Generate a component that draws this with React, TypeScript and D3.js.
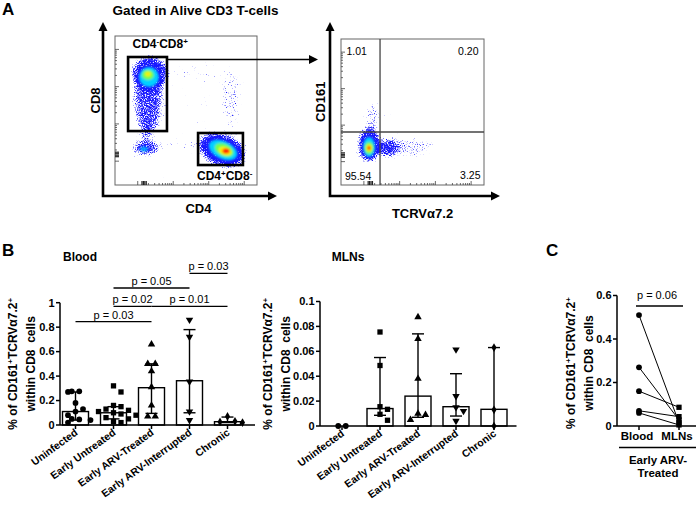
import React from 'react';
import * as d3 from 'd3';

const FONT = "'Liberation Sans', Arial, Helvetica, sans-serif";

// ---------- Panel B data ----------
const categories = ['Uninfected', 'Early Untreated', 'Early ARV-Treated', 'Early ARV-Interrupted', 'Chronic'];
const markerTypes = ['circle', 'square', 'triangle', 'triangleDown', 'diamond'];

const bloodUninfected = [0.275, 0.275, 0.27, 0.18, 0.13, 0.11, 0.08, 0.05, 0.045, 0.04, 0.02];
const bloodEarlyUntreated = [0.32, 0.27, 0.16, 0.15, 0.13, 0.12, 0.11, 0.1, 0.09, 0.08, 0.06, 0.05, 0.03, 0.02];
const bloodEarlyTreated = [0.66, 0.5, 0.5, 0.44, 0.31, 0.16, 0.07, 0.07];
const bloodInterrupted = [0.86, 0.72, 0.354, 0.11, 0.04];
const bloodChronic = [0.07, 0.03, 0.025, 0.02];
const bloodMedian = [0.11, 0.1, 0.305, 0.362, 0.027];
const bloodLow = [0.04, 0.05, 0.095, 0.1, 0.02];
const bloodHigh = [0.27, 0.15, 0.5, 0.78, 0.065];
const bloodTicks = [0, 0.2, 0.4, 0.6, 0.8, 1];

const bloodPFrom = [0, 1, 1, 2, 3];
const bloodPTo = [2, 2, 3, 4, 4];
const bloodPLevel = [0.845, 0.97, 1.12, 0.97, 1.24];
const bloodPLabel = ['p = 0.03', 'p = 0.02', 'p = 0.05', 'p = 0.01', 'p = 0.03'];

const mlnUninfected = [0, 0];
const mlnEarlyUntreated = [0.0755, 0.0486, 0.0155, 0.0134, 0.0094, 0.0046];
const mlnEarlyTreated = [0.0875, 0.07, 0.038, 0.01, 0.009, 0.005];
const mlnInterrupted = [0.0614, 0.024, 0.015, 0.012, 0.004];
const mlnChronic = [0.063, 0.013, 0];
const mlnMedian = [0, 0.014, 0.024, 0.0155, 0.0134];
const mlnLow = [0, 0.0086, 0.007, 0.008, 0];
const mlnHigh = [0, 0.055, 0.074, 0.042, 0.063];
const mlnTicks = [0, 0.02, 0.04, 0.06, 0.08, 0.1];

// ---------- Panel C data ----------
const pairedSites = ['Blood', 'MLNs'];
const pairedBlood = [0.51, 0.27, 0.16, 0.07, 0.06];
const pairedMLN = [0.015, 0.028, 0.086, 0.043, 0.005];
const pairedTicks = [0, 0.2, 0.4, 0.6];

// ---------- Panel A flow populations (unit log-fluorescence coords) ----------
// [u, v, spreadU, spreadV, rotationDeg, density]
const leftSparse = [
  [0.232, 0.59, 0.1, 0.26, 0, 0.72],
  [0.246, 0.75, 0.13, 0.115, 0, 0.85],
  [0.218, 0.248, 0.095, 0.05, 0, 0.8],
  [0.218, 0.336, 0.05, 0.06, 0, 0.4],
  [0.754, 0.235, 0.17, 0.105, 20, 1],
  [0.824, 0.57, 0.063, 0.235, 0, 0.33],
  [0.528, 0.57, 0.282, 0.235, 0, 0.1],
  [0.458, 0.262, 0.176, 0.054, 0, 0.2],
  [0.599, 0.772, 0.211, 0.081, 0, 0.12],
];
// [u, v, spreadU, spreadV, rotationDeg, level]
const leftDense = [
  [0.239, 0.725, 0.07, 0.067, 0, 0.45],
  [0.232, 0.738, 0.042, 0.034, 0, 0.62],
  [0.232, 0.745, 0.021, 0.017, 0, 0.78],
  [0.204, 0.242, 0.028, 0.017, 0, 0.35],
  [0.761, 0.235, 0.106, 0.06, 25, 0.45],
  [0.768, 0.235, 0.07, 0.04, 25, 0.62],
  [0.775, 0.228, 0.046, 0.027, 20, 0.8],
  [0.782, 0.228, 0.025, 0.017, 0, 1],
];
const rightSparse = [
  [0.196, 0.274, 0.077, 0.116, 0, 1],
  [0.217, 0.459, 0.049, 0.123, 0, 0.42],
  [0.469, 0.26, 0.196, 0.062, 0, 0.42],
  [0.329, 0.253, 0.077, 0.068, 0, 0.7],
  [0.413, 0.445, 0.175, 0.103, 0, 0.08],
];
const rightDense = [
  [0.196, 0.26, 0.042, 0.068, 0, 0.45],
  [0.196, 0.253, 0.031, 0.041, 0, 0.62],
  [0.196, 0.253, 0.02, 0.024, 0, 0.8],
  [0.196, 0.253, 0.011, 0.014, 0, 1],
];
const gateCD8 = [0.092, 0.366, 0.362, 0.859];
const gateCD4 = [0.585, 0.901, 0.134, 0.349];
const quadrantCut = [0.273, 0.363];
const quadrantValues = ['1.01', '0.20', '95.54', '3.25'];

const jet = d3
  .scaleLinear<string>()
  .domain([0, 0.25, 0.45, 0.62, 0.8, 1])
  .range(['#1414ff', '#0070ff', '#00d0ff', '#70ff50', '#ffee00', '#ff1400']);

const flowLog = d3.scaleLog().domain([100, 100000]).range([0.16, 0.91]);

function markerPath(t: string) {
  if (t === 'circle') return d3.symbol(d3.symbolCircle, 26)()!;
  if (t === 'square') return d3.symbol(d3.symbolSquare, 28)()!;
  if (t === 'diamond') return d3.symbol(d3.symbolDiamond, 22)()!;
  return d3.symbol(d3.symbolTriangle, 24)()!;
}

function Marker({ t, x, y }: { t: string; x: number; y: number }) {
  const rot = t === 'triangleDown' ? ' rotate(180)' : '';
  return <path d={markerPath(t)} transform={`translate(${x},${y})${rot}`} fill="#000" />;
}

function swarm(values: number[], y: (v: number) => number, cx: number, step: number) {
  const order = values.map((v, i) => ({ v, i })).sort((a, b) => b.v - a.v);
  const res: { x: number; y: number }[] = new Array(values.length);
  const placed: { x: number; y: number }[] = [];
  const offs = [0];
  for (let j = 1; j < 10; j++) offs.push(j * step, -j * step);
  for (const { v, i } of order) {
    const py = y(v);
    for (const o of offs) {
      if (placed.every((p) => Math.hypot(p.x - (cx + o), p.y - py) >= step * 0.95)) {
        res[i] = { x: cx + o, y: py };
        placed.push(res[i]);
        break;
      }
    }
  }
  const rows = d3.group(res.map((p, i) => ({ p, i })), (d) => Math.round(d.p.y));
  rows.forEach((row) => {
    if (row.length > 1) {
      const m = d3.mean(row, (d) => d.p.x)!;
      row.forEach((d) => (d.p.x += cx - m));
    }
  });
  return res;
}

function YLabel({ x1, x2, yMid }: { x1: number; x2: number; yMid: number }) {
  return (
    <g fontSize={12} fontWeight="bold" textAnchor="middle">
      <text transform={`translate(${x1},${yMid}) rotate(-90)`}>
        % of CD161<tspan dy={-4.5} fontSize={8}>+</tspan>
        <tspan dy={4.5}>TCRVα7.2</tspan>
        <tspan dy={-4.5} fontSize={8}>+</tspan>
      </text>
      <text transform={`translate(${x2},${yMid}) rotate(-90)`} xmlSpace="preserve">
        within CD8  cells
      </text>
    </g>
  );
}

type PanelCfg = {
  axisX: number;
  y0: number;
  yTop: number;
  max: number;
  ticks: number[];
  xEnd: number;
  bandStart: number;
  groups: number[][];
  median: number[];
  low: number[];
  high: number[];
  title: string;
  titleX: number;
  labX1: number;
  labX2: number;
  brackets?: { from: number; to: number; level: number; label: string }[];
};

function StatPanel({ c }: { c: PanelCfg }) {
  const y = d3.scaleLinear().domain([0, c.max]).range([c.y0, c.yTop]);
  const x = d3.scaleBand().domain(categories).range([c.bandStart, c.bandStart + 38 * categories.length]);
  const bw = 26;
  const fmt = d3.format('~g');
  const cx = (i: number) => x(categories[i])! + x.bandwidth() / 2;
  return (
    <g>
      <text x={c.titleX} y={261} textAnchor="middle" fontSize={12} fontWeight="bold">
        {c.title}
      </text>
      <YLabel x1={c.axisX + c.labX1} x2={c.axisX + c.labX2} yMid={(c.y0 + c.yTop) / 2} />
      {c.median.map((m, i) => (
        <rect key={'b' + i} x={cx(i) - bw / 2} y={y(m)} width={bw} height={c.y0 - y(m)} fill="#fff" stroke="#000" strokeWidth={1.4} />
      ))}
      {c.median.map((m, i) =>
        c.high[i] > c.low[i] ? (
          <g key={'e' + i} stroke="#000" strokeWidth={1.4}>
            <line x1={cx(i)} x2={cx(i)} y1={y(c.low[i])} y2={y(c.high[i])} />
            <line x1={cx(i) - 6} x2={cx(i) + 6} y1={y(c.high[i])} y2={y(c.high[i])} />
            {c.low[i] > 0 && <line x1={cx(i) - 6} x2={cx(i) + 6} y1={y(c.low[i])} y2={y(c.low[i])} />}
          </g>
        ) : null
      )}
      <line x1={c.axisX} x2={c.axisX} y1={c.y0} y2={c.yTop} stroke="#000" strokeWidth={1.5} />
      <line x1={c.axisX} x2={c.xEnd} y1={c.y0} y2={c.y0} stroke="#000" strokeWidth={1.5} />
      {c.ticks.map((t) => (
        <g key={'t' + t}>
          <line x1={c.axisX - 4} x2={c.axisX} y1={y(t)} y2={y(t)} stroke="#000" strokeWidth={1.5} />
          <text x={c.axisX - 5.5} y={y(t)} dy="0.35em" textAnchor="end" fontSize={11} fontWeight="bold">
            {fmt(t)}
          </text>
        </g>
      ))}
      {categories.map((cat, i) => (
        <g key={'c' + i}>
          <line x1={cx(i)} x2={cx(i)} y1={c.y0} y2={c.y0 + 4} stroke="#000" strokeWidth={1.5} />
          <text
            transform={`translate(${cx(i) + 3},${c.y0 + 9}) rotate(-36)`}
            textAnchor="end"
            fontSize={10.5}
            fontWeight="bold"
          >
            {cat}
          </text>
        </g>
      ))}
      {c.groups.map((vals, i) =>
        swarm(vals, y, cx(i), 7.5).map((p, j) => <Marker key={'p' + i + '_' + j} t={markerTypes[i]} x={p.x} y={p.y} />)
      )}
      {(c.brackets || []).map((b, k) => (
        <g key={'br' + k}>
          <line x1={cx(b.from)} x2={cx(b.to)} y1={y(b.level)} y2={y(b.level)} stroke="#000" strokeWidth={1.4} />
          <text x={(cx(b.from) + cx(b.to)) / 2} y={y(b.level) - 3} textAnchor="middle" fontSize={11}>
            {b.label}
          </text>
        </g>
      ))}
    </g>
  );
}

function FlowPlot(props: {
  id: string;
  box: [number, number, number, number];
  axisX: number;
  axisY: number;
  tipY: number;
  tipX: number;
  sparse: number[][];
  dense: number[][];
  children?: any;
  quad?: boolean;
}) {
  const [x0, x1, y0, y1] = props.box;
  const u = d3.scaleLinear().domain([0, 1]).range([x0, x1]);
  const v = d3.scaleLinear().domain([0, 1]).range([y1, y0]);
  const w = x1 - x0;
  const h = y1 - y0;
  const ticks = flowLog.ticks();
  const isMajor = (t: number) => Math.abs(Math.log10(t) - Math.round(Math.log10(t))) < 1e-6;
  return (
    <g>
      <clipPath id={props.id + 'clip'}>
        <rect x={x0} y={y0} width={w} height={h} />
      </clipPath>
      <g clipPath={`url(#${props.id}clip)`}>
        <g filter="url(#spk)">
          {props.sparse.map((s, i) => (
            <ellipse
              key={i}
              cx={0}
              cy={0}
              rx={s[2] * w}
              ry={s[3] * h}
              transform={`translate(${u(s[0])},${v(s[1])}) rotate(${s[4]})`}
              fill="#000"
              fillOpacity={s[5]}
            />
          ))}
        </g>
        <g filter="url(#soft)">
          {props.dense.map((s, i) => (
            <ellipse
              key={i}
              cx={0}
              cy={0}
              rx={s[2] * w}
              ry={s[3] * h}
              transform={`translate(${u(s[0])},${v(s[1])}) rotate(${s[4]})`}
              fill={jet(s[5])}
            />
          ))}
        </g>
      </g>
      <rect x={x0} y={y0} width={w} height={h} fill="none" stroke="#666" strokeWidth={1} />
      {ticks.map((t, i) => (
        <g key={i} stroke="#444" strokeWidth={0.8}>
          <line x1={x0} x2={x0 + (isMajor(t) ? 4 : 2)} y1={v(flowLog(t))} y2={v(flowLog(t))} />
          <line y1={y1} y2={y1 - (isMajor(t) ? 4 : 2)} x1={u(flowLog(t))} x2={u(flowLog(t))} />
        </g>
      ))}
      <g stroke="#222" strokeWidth={1.2}>
        {[0.19, 0.2, 0.21, 0.22].map((t) => (
          <g key={t}>
            <line x1={x0} x2={x0 + 4} y1={v(t)} y2={v(t)} />
            <line y1={y1} y2={y1 - 4} x1={u(t)} x2={u(t)} />
          </g>
        ))}
      </g>
      {props.quad && (
        <g stroke="#444" strokeWidth={1.3}>
          <line x1={u(quadrantCut[0])} x2={u(quadrantCut[0])} y1={y0} y2={y1} />
          <line x1={x0} x2={x1} y1={v(quadrantCut[1])} y2={v(quadrantCut[1])} />
        </g>
      )}
      <path
        d={`M${props.axisX},${props.tipY + 8} L${props.axisX},${props.axisY} L${props.tipX - 8},${props.axisY}`}
        fill="none"
        stroke="#000"
        strokeWidth={2.6}
      />
      <path d={`M${props.axisX - 4.5},${props.tipY + 9} L${props.axisX},${props.tipY} L${props.axisX + 4.5},${props.tipY + 9} Z`} fill="#000" />
      <path d={`M${props.tipX - 9},${props.axisY - 4.5} L${props.tipX},${props.axisY} L${props.tipX - 9},${props.axisY + 4.5} Z`} fill="#000" />
      {props.children && props.children(u, v)}
    </g>
  );
}

function PanelC() {
  const axisX = 617;
  const y0 = 426;
  const y = d3.scaleLinear().domain([0, 0.6]).range([y0, 295.5]);
  const x = d3.scalePoint().domain(pairedSites).range([639, 679]);
  const fmt = d3.format('~g');
  return (
    <g>
      <text x={546} y={256} fontSize={17} fontWeight="bold">
        C
      </text>
      <YLabel x1={axisX - 42} x2={axisX - 24} yMid={363} />
      <line x1={axisX} x2={axisX} y1={y0} y2={y(0.6)} stroke="#000" strokeWidth={1.5} />
      <line x1={axisX} x2={696} y1={y0} y2={y0} stroke="#000" strokeWidth={1.5} />
      {pairedTicks.map((t) => (
        <g key={t}>
          <line x1={axisX - 4} x2={axisX} y1={y(t)} y2={y(t)} stroke="#000" strokeWidth={1.5} />
          <text x={axisX - 5.5} y={y(t)} dy="0.35em" textAnchor="end" fontSize={11} fontWeight="bold">
            {fmt(t)}
          </text>
        </g>
      ))}
      {pairedSites.map((s) => (
        <g key={s}>
          <line x1={x(s)!} x2={x(s)!} y1={y0} y2={y0 + 4} stroke="#000" strokeWidth={1.5} />
          <text x={x(s)! - 2} y={440} textAnchor="middle" fontSize={11.5} fontWeight="bold">
            {s}
          </text>
        </g>
      ))}
      <line x1={619} x2={696} y1={447.5} y2={447.5} stroke="#000" strokeWidth={1.4} />
      <text x={658} y={464} textAnchor="middle" fontSize={11.5} fontWeight="bold">
        Early ARV-
      </text>
      <text x={658} y={477} textAnchor="middle" fontSize={11.5} fontWeight="bold">
        Treated
      </text>
      {pairedBlood.map((b, i) => (
        <line key={'l' + i} x1={x('Blood')!} y1={y(b)} x2={x('MLNs')!} y2={y(pairedMLN[i])} stroke="#000" strokeWidth={1} />
      ))}
      {pairedBlood.map((b, i) => (
        <Marker key={'b' + i} t="circle" x={x('Blood')!} y={y(b)} />
      ))}
      {pairedMLN.map((m, i) => (
        <Marker key={'m' + i} t="square" x={x('MLNs')!} y={y(m)} />
      ))}
      <line x1={636} x2={683} y1={306} y2={306} stroke="#000" strokeWidth={1.6} />
      <text x={657} y={299} textAnchor="middle" fontSize={11}>
        p = 0.06
      </text>
    </g>
  );
}

export default function App() {
  const bloodCfg: PanelCfg = {
    axisX: 60,
    y0: 425,
    yTop: 302.7,
    max: 1,
    ticks: bloodTicks,
    xEnd: 255,
    bandStart: 56.5,
    groups: [bloodUninfected, bloodEarlyUntreated, bloodEarlyTreated, bloodInterrupted, bloodChronic],
    median: bloodMedian,
    low: bloodLow,
    high: bloodHigh,
    title: 'Blood',
    titleX: 80,
    labX1: -43,
    labX2: -25,
    brackets: bloodPFrom.map((f, i) => ({ from: f, to: bloodPTo[i], level: bloodPLevel[i], label: bloodPLabel[i] })),
  };
  const mlnCfg: PanelCfg = {
    axisX: 320,
    y0: 426,
    yTop: 301.5,
    max: 0.1,
    ticks: mlnTicks,
    xEnd: 516.5,
    bandStart: 323,
    groups: [mlnUninfected, mlnEarlyUntreated, mlnEarlyTreated, mlnInterrupted, mlnChronic],
    median: mlnMedian,
    low: mlnLow,
    high: mlnHigh,
    title: 'MLNs',
    titleX: 348,
    labX1: -48,
    labX2: -30,
  };
  return (
    <svg
      width={700}
      height={508}
      style={{ position: 'absolute', left: 0, top: 0, background: '#fff' }}
      fontFamily={FONT}
    >
      <defs>
        <filter id="spk" x="-10%" y="-10%" width="120%" height="120%" colorInterpolationFilters="sRGB">
          <feGaussianBlur in="SourceAlpha" stdDeviation="3" result="a" />
          <feTurbulence type="fractalNoise" baseFrequency="0.9" numOctaves="2" seed="7" result="t" />
          <feColorMatrix in="t" type="matrix" values="0 0 0 0 0  0 0 0 0 0  0 0 0 0 0  1 0 0 0 0" result="n" />
          <feComposite in="a" in2="n" operator="arithmetic" k1="0" k2="3" k3="-4" k4="0.6" result="m" />
          <feFlood floodColor="#1818ff" result="f" />
          <feComposite in="f" in2="m" operator="in" />
        </filter>
        <filter id="soft" x="-20%" y="-20%" width="140%" height="140%">
          <feGaussianBlur stdDeviation="1.3" />
        </filter>
      </defs>
      <rect width={700} height={508} fill="#fff" />

      {/* Panel A */}
      <text x={2} y={15} fontSize={17} fontWeight="bold">
        A
      </text>
      <text x={195.5} y={15} textAnchor="middle" fontSize={13.5} fontWeight="bold">
        Gated in Alive CD3 T-cells
      </text>
      <FlowPlot
        id="left"
        box={[115, 257, 36, 185]}
        axisX={103}
        axisY={196}
        tipY={22}
        tipX={277}
        sparse={leftSparse}
        dense={leftDense}
      >
        {(u: any, v: any) => (
          <g>
            <rect
              x={u(gateCD8[0])}
              y={v(gateCD8[3])}
              width={u(gateCD8[1]) - u(gateCD8[0])}
              height={v(gateCD8[2]) - v(gateCD8[3])}
              fill="none"
              stroke="#000"
              strokeWidth={2.6}
            />
            <rect
              x={u(gateCD4[0])}
              y={v(gateCD4[3])}
              width={u(gateCD4[1]) - u(gateCD4[0])}
              height={v(gateCD4[2]) - v(gateCD4[3])}
              fill="none"
              stroke="#000"
              strokeWidth={2.6}
            />
            <text x={132.5} y={48} fontSize={12} fontWeight="bold">
              CD4<tspan dy={-4} fontSize={8}>-</tspan>
              <tspan dy={4}>CD8</tspan>
              <tspan dy={-4} fontSize={8}>+</tspan>
            </text>
            <text x={197} y={180} fontSize={12} fontWeight="bold">
              CD4<tspan dy={-4} fontSize={8}>+</tspan>
              <tspan dy={4}>CD8</tspan>
              <tspan dy={-4} fontSize={8}>-</tspan>
            </text>
            <line x1={u(gateCD8[1])} y1={59.5} x2={310} y2={59.5} stroke="#000" strokeWidth={1.6} />
            <path d="M309,55 L318,59.5 L309,64 Z" fill="#000" />
          </g>
        )}
      </FlowPlot>
      <text transform="translate(100,100.5) rotate(-90)" textAnchor="middle" fontSize={13} fontWeight="bold">
        CD8
      </text>
      <text x={198.5} y={213} textAnchor="middle" fontSize={13} fontWeight="bold">
        CD4
      </text>

      <FlowPlot
        id="right"
        box={[341, 484, 39, 185]}
        axisX={330}
        axisY={196}
        tipY={22}
        tipX={500}
        sparse={rightSparse}
        dense={rightDense}
        quad
      />
      <g fontSize={10.5}>
        <text x={346.5} y={55}>{quadrantValues[0]}</text>
        <text x={478.5} y={54.5} textAnchor="end">
          {quadrantValues[1]}
        </text>
        <text x={345} y={180}>{quadrantValues[2]}</text>
        <text x={480.5} y={179} textAnchor="end">
          {quadrantValues[3]}
        </text>
      </g>
      <text transform="translate(325,101.7) rotate(-90)" textAnchor="middle" fontSize={13} fontWeight="bold">
        CD161
      </text>
      <text x={422.5} y={218} textAnchor="middle" fontSize={13} fontWeight="bold">
        TCRVα7.2
      </text>

      {/* Panel B */}
      <text x={2} y={256} fontSize={17} fontWeight="bold">
        B
      </text>
      <StatPanel c={bloodCfg} />
      <StatPanel c={mlnCfg} />

      {/* Panel C */}
      <PanelC />
    </svg>
  );
}
